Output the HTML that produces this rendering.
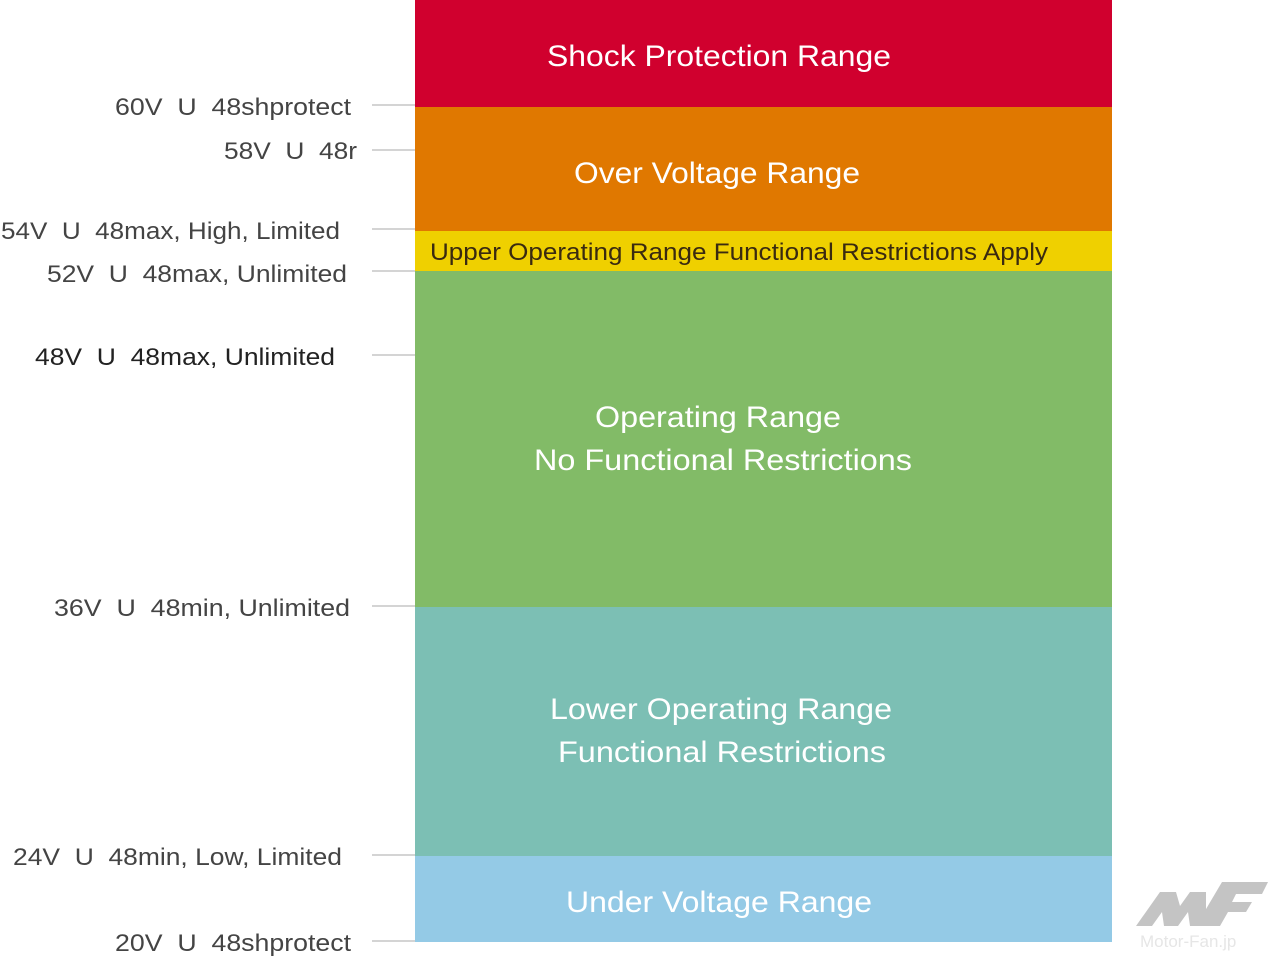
<!DOCTYPE html>
<html><head><meta charset="utf-8"><style>html,body{margin:0;padding:0;background:#fff}svg{display:block}</style></head>
<body>
<svg width="1279" height="960" viewBox="0 0 1279 960" xmlns="http://www.w3.org/2000/svg" font-family="Liberation Sans, sans-serif">
<rect x="415" y="0" width="697" height="107" fill="#d0002e"/>
<rect x="415" y="107" width="697" height="124" fill="#e07800"/>
<rect x="415" y="231" width="697" height="40" fill="#efd000"/>
<rect x="415" y="271" width="697" height="336" fill="#82bb67"/>
<rect x="415" y="607" width="697" height="249" fill="#7cbfb4"/>
<rect x="415" y="856" width="697" height="86" fill="#94cae6"/>
<g fill="#fff" font-size="30" text-anchor="middle">
<text x="719" y="66" textLength="344" lengthAdjust="spacingAndGlyphs">Shock Protection Range</text>
<text x="717" y="183" textLength="286" lengthAdjust="spacingAndGlyphs">Over Voltage Range</text>
<text x="718" y="427" textLength="246" lengthAdjust="spacingAndGlyphs">Operating Range</text>
<text x="723" y="470" textLength="378" lengthAdjust="spacingAndGlyphs">No Functional Restrictions</text>
<text x="721" y="719" textLength="342" lengthAdjust="spacingAndGlyphs">Lower Operating Range</text>
<text x="722" y="762" textLength="328" lengthAdjust="spacingAndGlyphs">Functional Restrictions</text>
<text x="719" y="912" textLength="306" lengthAdjust="spacingAndGlyphs">Under Voltage Range</text>
</g>
<text x="430" y="260" font-size="24" fill="#3a2a10" textLength="618" lengthAdjust="spacingAndGlyphs">Upper Operating Range Functional Restrictions Apply</text>
<g stroke="#aaa" stroke-width="1">
<line x1="372" y1="105" x2="415" y2="105"/><line x1="372" y1="150" x2="415" y2="150"/>
<line x1="372" y1="229" x2="415" y2="229"/><line x1="372" y1="271" x2="415" y2="271"/>
<line x1="372" y1="355" x2="415" y2="355"/><line x1="372" y1="606" x2="415" y2="606"/>
<line x1="372" y1="855" x2="415" y2="855"/><line x1="372" y1="941" x2="415" y2="941"/>
</g>
<g fill="#444" font-size="24">
<text x="115" y="115" textLength="236" lengthAdjust="spacingAndGlyphs" xml:space="preserve">60V  U  48shprotect</text>
<text x="224" y="159" textLength="133" lengthAdjust="spacingAndGlyphs" xml:space="preserve">58V  U  48r</text>
<text x="1" y="239" textLength="339" lengthAdjust="spacingAndGlyphs" xml:space="preserve">54V  U  48max, High, Limited</text>
<text x="47" y="282" textLength="300" lengthAdjust="spacingAndGlyphs" xml:space="preserve">52V  U  48max, Unlimited</text>
<text x="35" y="365" fill="#222" textLength="300" lengthAdjust="spacingAndGlyphs" xml:space="preserve">48V  U  48max, Unlimited</text>
<text x="54" y="616" textLength="296" lengthAdjust="spacingAndGlyphs" xml:space="preserve">36V  U  48min, Unlimited</text>
<text x="13" y="865" textLength="329" lengthAdjust="spacingAndGlyphs" xml:space="preserve">24V  U  48min, Low, Limited</text>
<text x="115" y="951" textLength="236" lengthAdjust="spacingAndGlyphs" xml:space="preserve">20V  U  48shprotect</text>
</g>
<g fill="#c4c4c4">
<polygon points="1136,926 1160,892 1176,892 1180,906 1190,892 1206,892 1206,926 1190,926 1188,912 1178,926 1164,926 1162,912 1152,926"/>
<polygon points="1196,926 1222,882 1268,882 1262,894 1236,894 1232,902 1252,902 1246,912 1228,912 1220,926"/>
<text x="1140" y="947" font-size="17" fill="#e6e6e6">Motor-Fan.jp</text>
</g>
</svg>
</body></html>
